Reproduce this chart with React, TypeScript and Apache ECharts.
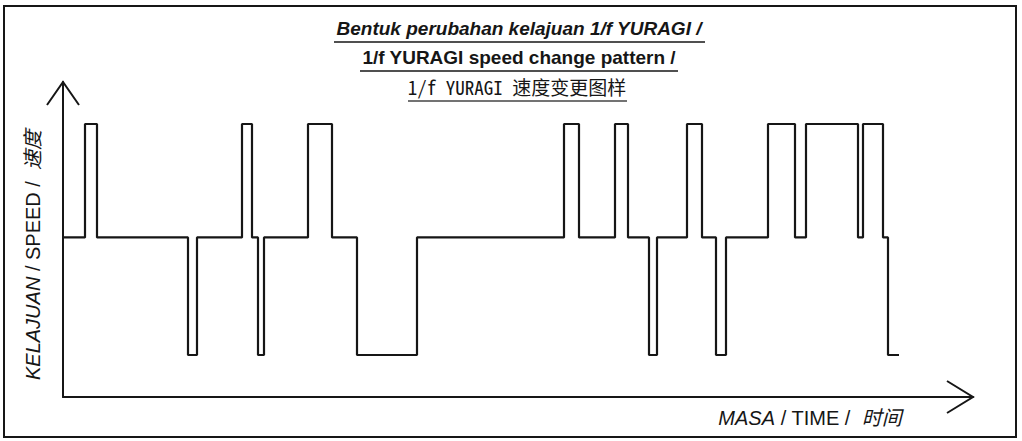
import React, { useEffect, useRef } from "react";
import * as echarts from "echarts";

// Time (x) at each change of speed, and the speed level held from that time on
const LOW = 1;
const MID = 3.8;
const HIGH = 6.5;
const times = [0, 2.2, 3.4, 12.5, 13.4, 17.9, 18.9, 19.5, 20.1, 24.5, 26.9, 29.4, 35.4, 50.1, 51.6, 55.2, 56.5, 58.6, 59.4, 62.4, 63.9, 65.3, 66.3, 70.5, 73.2, 74.3, 79.5, 80.0, 82.0, 82.5, 83.6];
const speeds = [MID, HIGH, MID, LOW, MID, HIGH, MID, LOW, MID, HIGH, MID, LOW, MID, HIGH, MID, HIGH, MID, LOW, MID, HIGH, MID, LOW, MID, HIGH, MID, HIGH, MID, HIGH, MID, LOW, LOW];

const titleLines = [
  "Bentuk perubahan kelajuan 1/f YURAGI /",
  "1/f YURAGI speed change pattern /",
  "1/f YURAGI 速度变更图样",
];
const yName = ["KELAJUAN", " / SPEED /  ", "速度"];
const xName = ["MASA", " / TIME /  ", "时间"];

const SANS = "'Liberation Sans', Arial, 'Noto Sans CJK SC', sans-serif";
const INK = "#161616";

export default function App() {
  const ref = useRef<HTMLDivElement>(null);
  useEffect(() => {
    if (!ref.current) return;
    const chart = echarts.init(ref.current, null, { renderer: "svg" });
    const axisCommon = {
      type: "value" as const,
      axisLine: { show: true, lineStyle: { color: INK, width: 2 } },
      axisTick: { show: false },
      axisLabel: { show: false },
      splitLine: { show: false },
    };
    const richLabel = {
      i: { fontFamily: SANS, fontStyle: "italic", fontSize: 20, fill: INK },
      n: { fontFamily: SANS, fontSize: 20, fill: INK },
    };
    chart.setOption({
      animation: false,
      backgroundColor: "#ffffff",
      grid: { left: 63, top: 82, right: 49, bottom: 44 },
      xAxis: { ...axisCommon, min: 0, max: 91 },
      yAxis: { ...axisCommon, min: 0, max: 7.5 },
      series: [
        {
          type: "line",
          step: "end",
          symbol: "none",
          data: times.map((t, i) => [t, speeds[i]]),
          lineStyle: { color: INK, width: 2.2 },
        },
      ],
      graphic: [
        {
          type: "rect",
          shape: { x: 4, y: 6, width: 1012, height: 431 },
          style: { fill: "none", stroke: INK, lineWidth: 2 },
        },
        {
          type: "polyline",
          shape: { points: [[47, 105], [63, 82], [79, 105]] },
          style: { fill: "none", stroke: INK, lineWidth: 2 },
        },
        {
          type: "polyline",
          shape: { points: [[947, 381], [973, 397], [947, 413]] },
          style: { fill: "none", stroke: INK, lineWidth: 2 },
        },
        {
          type: "text",
          x: 519,
          y: 28,
          style: {
            text: titleLines[0],
            align: "center",
            verticalAlign: "middle",
            font: `italic bold 19px ${SANS}`,
            fill: INK,
          },
        },
        {
          type: "line",
          shape: { x1: 334, y1: 42, x2: 705, y2: 42 },
          style: { stroke: INK, lineWidth: 1.5 },
        },
        {
          type: "text",
          x: 519,
          y: 57,
          style: {
            text: titleLines[1],
            align: "center",
            verticalAlign: "middle",
            font: `bold 19px ${SANS}`,
            fill: INK,
          },
        },
        {
          type: "line",
          shape: { x1: 360, y1: 71, x2: 678, y2: 71 },
          style: { stroke: INK, lineWidth: 1.5 },
        },
        {
          type: "text",
          x: 517,
          y: 86,
          style: {
            text: titleLines[2],
            align: "center",
            verticalAlign: "middle",
            font: `19px 'Noto Sans Mono CJK SC', 'DejaVu Sans Mono', 'Noto Sans CJK SC', monospace`,
            fill: INK,
          },
        },
        {
          type: "line",
          shape: { x1: 408, y1: 101, x2: 627, y2: 101 },
          style: { stroke: "#444", lineWidth: 1.5 },
        },
        {
          type: "text",
          x: 33,
          y: 255,
          rotation: Math.PI / 2,
          style: {
            text: `{i|${yName[0]}}{n|${yName[1]}}{i|${yName[2]}}`,
            align: "center",
            verticalAlign: "middle",
            rich: richLabel,
          },
        },
        {
          type: "text",
          x: 810,
          y: 418,
          style: {
            text: `{i|${xName[0]}}{n|${xName[1]}}{i|${xName[2]}}`,
            align: "center",
            verticalAlign: "middle",
            rich: richLabel,
          },
        },
      ],
    });
    return () => chart.dispose();
  }, []);
  return (
    <div
      ref={ref}
      style={{ position: "fixed", left: 0, top: 0, width: 1022, height: 441 }}
    />
  );
}
